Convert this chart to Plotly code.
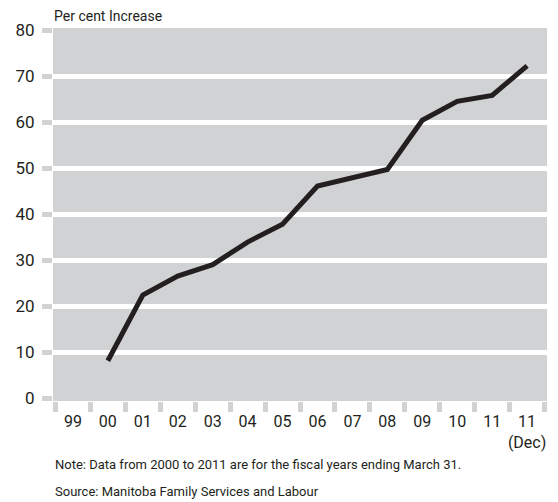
import plotly.graph_objects as go

categories = ["99", "00", "01", "02", "03", "04", "05", "06", "07", "08", "09", "10", "11", "11<br>(Dec)"]
values = [None, 8.2, 22.5, 26.6, 29.1, 34.0, 37.9, 46.2, 48.0, 49.8, 60.5, 64.6, 65.9, 72.3]
y_ticks = [0, 10, 20, 30, 40, 50, 60, 70, 80]
grid_vals = [10, 20, 30, 40, 50, 60, 70]

FONT = "Roboto, Lato, sans-serif"
TXT = "#231f20"
BG = "#d1d2d4"

fig = go.Figure()
fig.add_trace(go.Scatter(
    x=categories, y=values, mode="lines", xaxis="x", yaxis="y",
    line=dict(color="#231f20", width=5), connectgaps=False,
    showlegend=False, hoverinfo="skip",
))
# helper trace so the grid axis exists
fig.add_trace(go.Scatter(
    x=[categories[0]], y=[None], mode="lines", xaxis="x", yaxis="y2",
    showlegend=False, hoverinfo="skip",
))

# page body has an 8px default margin; compensate
OFF = 8
W, H = 558 - OFF, 502 - OFF
L, R, T, B = 52.5 - OFF, 11, 28 - OFF, 100.5
pw, ph = W - L - R, H - T - B
TOP = T + ph  # paper bottom in figure px (from top)


def py(y_px):
    """page pixel (from top) -> paper y"""
    return (TOP - (y_px - OFF)) / ph


def px(x_px):
    return ((x_px - OFF) - L) / pw


yr = [-0.55, 80.55]
fig.update_layout(
    width=W, height=H,
    margin=dict(l=L, r=R, t=T, b=B, pad=0),
    paper_bgcolor="white", plot_bgcolor=BG,
    font=dict(family=FONT, color=TXT),
    xaxis=dict(
        type="category", categoryorder="array", categoryarray=categories,
        range=[-0.57, 13.57], tickson="boundaries", tickangle=0,
        ticks="outside", ticklen=10, tickwidth=5, tickcolor=BG,
        showgrid=False, zeroline=False, showline=False, automargin=False,
        tickfont=dict(size=16, color=TXT, family=FONT), ticklabelstandoff=9,
    ),
    yaxis=dict(
        range=yr, tickvals=y_ticks, ticks="outside", ticklen=10, tickwidth=5,
        tickcolor=BG, showgrid=False, zeroline=False, showline=False,
        automargin=False,
        tickfont=dict(size=17, color=TXT, family=FONT), ticklabelstandoff=4,
    ),
    yaxis2=dict(
        range=yr, overlaying="y", tickvals=grid_vals, showticklabels=False,
        ticks="", showgrid=True, gridcolor="white", gridwidth=5,
        zeroline=False, showline=False, automargin=False,
    ),
)

fig.add_annotation(
    text="Per cent Increase", xref="paper", yref="paper",
    x=px(51), y=py(16), xanchor="left", yanchor="middle",
    showarrow=False, font=dict(size=14, color=TXT, family=FONT),
)
fig.add_annotation(
    text="Note: Data from 2000 to 2011 are for the fiscal years ending March 31.",
    xref="paper", yref="paper",
    x=px(52), y=py(465), xanchor="left", yanchor="middle",
    showarrow=False, font=dict(size=13, color=TXT, family=FONT),
)
fig.add_annotation(
    text="Source: Manitoba Family Services and Labour",
    xref="paper", yref="paper",
    x=px(52), y=py(492), xanchor="left", yanchor="middle",
    showarrow=False, font=dict(size=13, color=TXT, family=FONT),
)

fig.write_html("out.html")
